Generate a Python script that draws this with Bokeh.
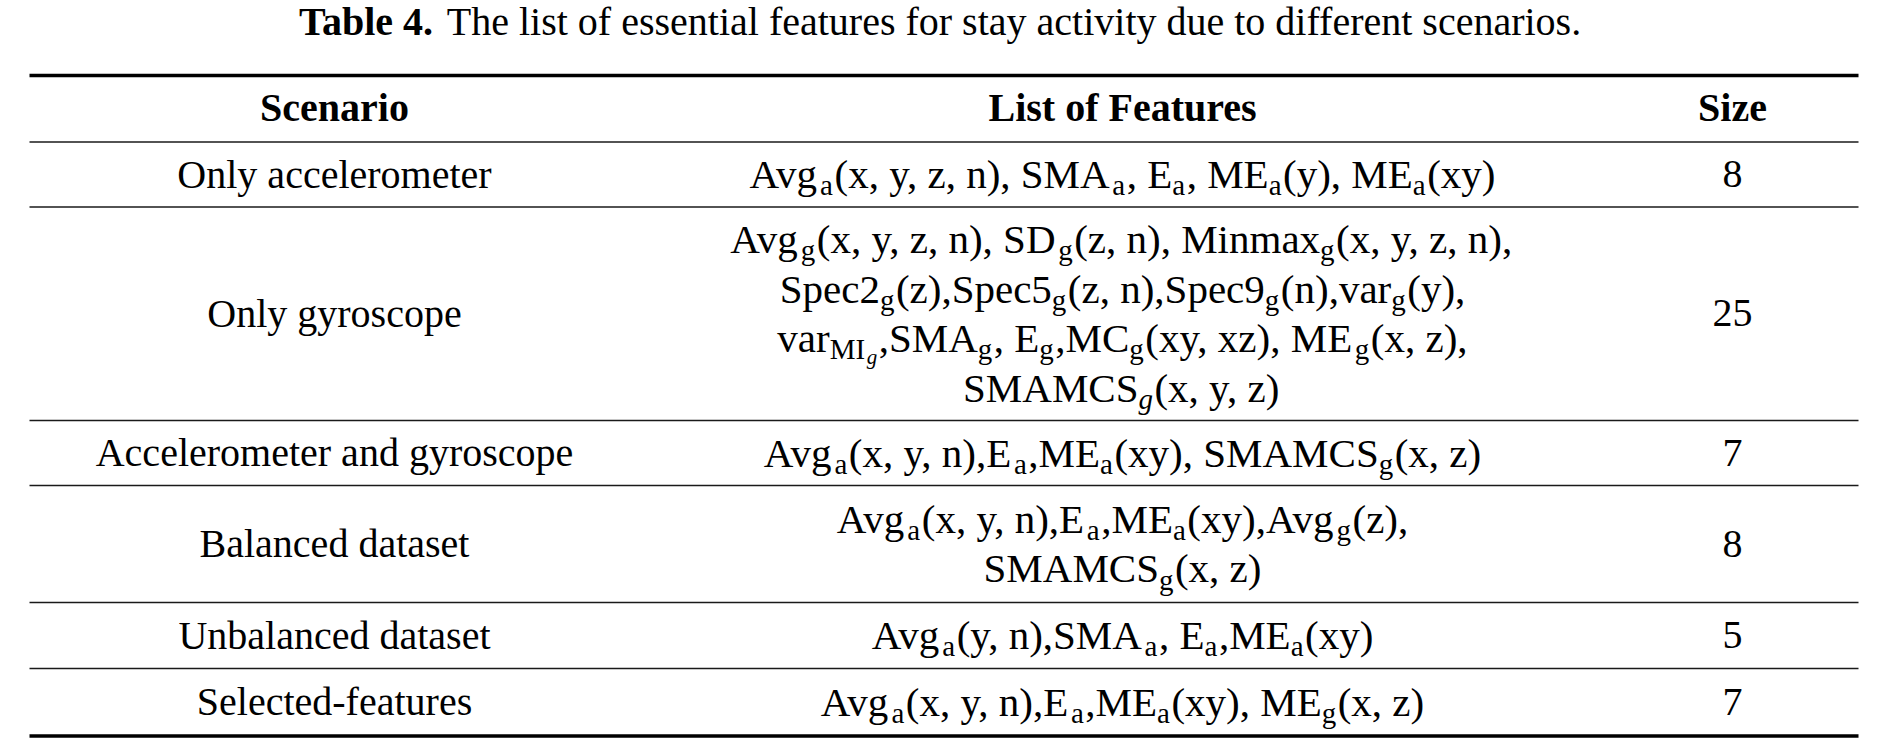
import re
from bokeh.plotting import figure
from bokeh.models import ColumnDataSource, Range1d
from bokeh.core.properties import value
from bokeh.embed import file_html
from bokeh.resources import INLINE

# table content
caption_bold = "Table 4."
caption_rest = "The list of essential features for stay activity due to different scenarios."
headers = ["Scenario", "List of Features", "Size"]
scenarios = ["Only accelerometer", "Only gyroscope", "Accelerometer and gyroscope",
             "Balanced dataset", "Unbalanced dataset", "Selected-features"]
sizes = ["8", "25", "7", "8", "5", "7"]
# _a = subscript, _{..} = longer subscript, ~g = italic subscript, #g = italic sub-subscript
features = [
    ["Avg_a(x, y, z, n), SMA_a, E_a, ME_a(y), ME_a(xy)"],
    ["Avg_g(x, y, z, n), SD_g(z, n), Minmax_g(x, y, z, n),",
     "Spec2_g(z),Spec5_g(z, n),Spec9_g(n),var_g(y),",
     "var_{MI}#g,SMA_g, E_g,MC_g(xy, xz), ME_g(x, z),",
     "SMAMCS~g(x, y, z)"],
    ["Avg_a(x, y, n),E_a,ME_a(xy), SMAMCS_g(x, z)"],
    ["Avg_a(x, y, n),E_a,ME_a(xy),Avg_g(z),",
     "SMAMCS_g(x, z)"],
    ["Avg_a(y, n),SMA_a, E_a,ME_a(xy)"],
    ["Avg_a(x, y, n),E_a,ME_a(xy), ME_g(x, z)"],
]

# Times / Liberation Serif advance widths (1/1000 em)
REG = {" ": 250, "(": 333, ")": 333, ",": 250, ".": 250, "-": 333,
       "A": 722, "C": 667, "D": 722, "E": 611, "I": 333, "M": 889, "S": 556, "T": 611,
       "a": 444, "c": 444, "d": 500, "e": 444, "f": 333, "g": 500, "h": 500, "i": 278,
       "l": 278, "m": 778, "n": 500, "o": 500, "p": 500, "r": 333, "s": 389, "t": 278,
       "u": 500, "v": 500, "x": 500, "y": 500, "z": 444}
BOLD = {" ": 250, ".": 250, "4": 500, "T": 667, "a": 500, "b": 556, "l": 278, "e": 444}

FONT = "Liberation Serif"
S = 40            # caption, header, scenario and size text
F = 41            # feature formulas
MID = 0.3375      # text is placed by the middle of its ascent/descent box
CAP = 0.331       # half cap height
STYLES = {        # size, drop below main baseline, style
    "main": (F, 0, "normal"),
    "sub": (29, 7, "normal"),
    "subit": (29, 7, "italic"),
    "subsub": (21, 12, "italic"),
}

def text_w(txt, size, table=REG):
    return sum(table.get(c, 500) for c in txt) * size / 1000.0

def ypos(cap_center, drop=0, size=S, main=S):
    # y for a run whose baseline sits `drop` px under a main-size line centred on cap_center
    return cap_center + CAP * main + drop - MID * size

TOKEN = re.compile(r"_\{([^}]*)\}|_(\w)|~(\w)|#(\w)")

def parse(line):
    out, pos = [], 0
    for m in TOKEN.finditer(line):
        if m.start() > pos:
            out.append((line[pos:m.start()], "main"))
        if m.group(1):
            out.append((m.group(1), "sub"))
        elif m.group(2):
            out.append((m.group(2), "sub"))
        elif m.group(3):
            out.append((m.group(3), "subit"))
        else:
            out.append((m.group(4), "subsub"))
        pos = m.end()
    if pos < len(line):
        out.append((line[pos:], "main"))
    return out

# layout (page pixels)
X0, X1 = 29, 1858
top_rule, head_rule, bottom_rule = 75, 141.5, 735.5
row_rules = [206.5, 420, 485, 602, 668]
col_x = [334, 1122, 1732]
line_gap = 49.5
caption_mid, header_mid = 21, 107.5

p = figure(width=1868, height=740, x_range=Range1d(0, 1868), y_range=Range1d(740, 0),
           toolbar_location=None, output_backend="svg", min_border=0)
p.axis.visible = False
p.grid.visible = False
p.outline_line_color = None
p.background_fill_color = "white"
p.border_fill_color = "white"

# rules
p.segment(x0=[X0, X0], x1=[X1, X1], y0=[top_rule, bottom_rule], y1=[top_rule, bottom_rule],
          line_color="black", line_width=3.3)
thin = [head_rule] + row_rules
p.segment(x0=[X0] * len(thin), x1=[X1] * len(thin), y0=thin, y1=thin,
          line_color="#1a1a1a", line_width=1.3)

common = dict(text_font=value(FONT), text_baseline="alphabetic", text_color="black")

# caption: bold label, then the rest after one space
bold_w = text_w(caption_bold, S, BOLD)
space_w = text_w(" ", S)
cap_w = bold_w + space_w + text_w(caption_rest, S)
cx = 940 - cap_w / 2
p.text(x=[cx], y=[ypos(caption_mid)], text=[caption_bold], text_font_size=f"{S}px",
       text_font_style="bold", text_align="left", **common)
p.text(x=[cx + bold_w + space_w], y=[ypos(caption_mid)], text=[caption_rest],
       text_font_size=f"{S}px", text_align="left", **common)

# header
p.text(x=col_x, y=[ypos(header_mid)] * 3, text=headers, text_font_size=f"{S}px",
       text_font_style="bold", text_align="center", **common)

# body rows
bounds = [head_rule] + row_rules + [bottom_rule]
row_mid = [(bounds[i] + bounds[i + 1]) / 2 for i in range(len(scenarios))]
p.text(x=[col_x[0]] * len(scenarios), y=[ypos(m) for m in row_mid], text=scenarios,
       text_font_size=f"{S}px", text_align="center", **common)
p.text(x=[col_x[2]] * len(sizes), y=[ypos(m) for m in row_mid], text=sizes,
       text_font_size=f"{S}px", text_align="center", **common)

segs = {k: dict(x=[], y=[], t=[]) for k in STYLES}
for r, lines in enumerate(features):
    n = len(lines)
    for i, line in enumerate(lines):
        mid = row_mid[r] + (i - (n - 1) / 2) * line_gap
        parts = parse(line)
        widths = []
        for txt, kind in parts:
            w = text_w(txt, STYLES[kind][0])
            if kind != "main":
                w += 1.5
            widths.append(w)
        x = col_x[1] - sum(widths) / 2
        for (txt, kind), w in zip(parts, widths):
            size, drop, _ = STYLES[kind]
            segs[kind]["x"].append(x)
            segs[kind]["y"].append(ypos(mid, drop, size, F))
            segs[kind]["t"].append(txt)
            x += w

for kind, d in segs.items():
    size, _, style = STYLES[kind]
    src = ColumnDataSource(d)
    p.text(x="x", y="y", text="t", source=src, text_font_size=f"{size}px",
           text_font_style=style, text_align="left", **common)

open("out.html", "w").write(file_html(p, INLINE))
